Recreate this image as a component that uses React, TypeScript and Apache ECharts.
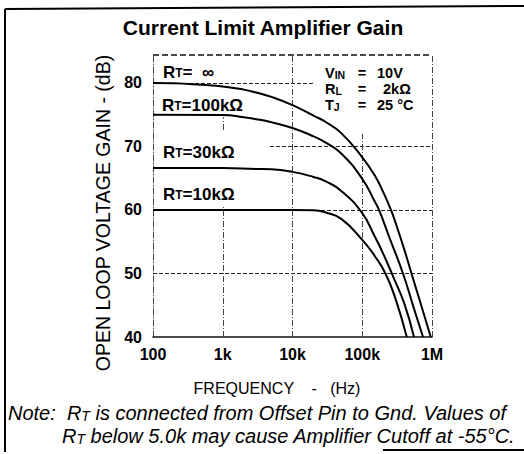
import React, { useEffect, useRef } from "react";
import * as echarts from "echarts";

// ---- data ----
const xTickLabels: Record<string, string> = {
  "100": "100",
  "1000": "1k",
  "10000": "10k",
  "100000": "100k",
  "1000000": "1M",
};
const yTickValues = [40, 50, 60, 70, 80];

const freqInf = [100, 200, 500, 1000, 2000, 3000, 5000, 10000, 20000, 30000, 50000, 100000, 150000, 200000, 258000, 300000, 400000, 508000, 700000, 960000];
const gainInf = [80, 79.95, 79.7, 79.45, 78.95, 78.5, 77.8, 76.5, 74.85, 73.85, 72.1, 68.3, 65.5, 62.8, 60, 58, 53.8, 50, 45, 40];

const freq100k = [100, 1000, 2000, 3000, 5000, 10000, 20000, 30000, 50000, 100000, 150000, 174000, 250000, 384000, 550000, 743000];
const gain100k = [75, 74.95, 74.6, 74.3, 73.8, 72.9, 71.6, 70.6, 68.9, 64.9, 61.4, 60, 55.4, 50, 44.5, 40];

const freq30k = [100, 1000, 3000, 5000, 10000, 20000, 30000, 50000, 100000, 150000, 200000, 285000, 400000, 552000];
const gain30k = [66.6, 66.6, 66.45, 66.4, 66.0, 65.2, 64.5, 63.0, 59.5, 55.9, 53.1, 49.2, 45.3, 40];

const freq10k = [100, 1000, 10000, 20000, 30000, 50000, 100000, 150000, 215000, 300000, 435000];
const gain10k = [60, 60, 60, 59.95, 59.6, 58.6, 55.3, 52.8, 50, 46.0, 40];

// grid segments: [value, from, to]
const hGrid = [
  [80, 100, 20000],
  [70, 4750, 1000000],
  [60, 100, 1000000],
  [50, 100, 1000000],
];
const vGrid = [
  [1000, 40, 60.5],
  [1000, 72.6, 74.6],
  [10000, 40, 84.4],
  [100000, 40, 72],
];
const yMax = 84.4;

const FONT = "'Liberation Sans', Arial, Helvetica, sans-serif";

export default function App() {
  const ref = useRef<HTMLDivElement>(null);
  useEffect(() => {
    document.body.style.margin = "0";
    document.body.style.background = "#fff";
    if (!ref.current) return;
    const chart = echarts.init(ref.current, null, { renderer: "svg" });

    const pair = (fs: number[], gs: number[]) => fs.map((f, i) => [f, gs[i]]);
    const curve = (name: string, data: number[][]) => ({
      name,
      type: "line",
      data,
      smooth: 0.5,
      showSymbol: false,
      symbol: "none",
      z: 3,
      lineStyle: { color: "#000", width: 2 },
    });

    const gridLine = { color: "#222", width: 1 };
    const dashLine = { color: "#444", width: 1, type: [6, 2, 1, 2] };
    const markData: any[] = [];
    hGrid.forEach(([v, a, b]) =>
      markData.push([{ coord: [a, v], lineStyle: gridLine }, { coord: [b, v] }])
    );
    vGrid.forEach(([v, a, b]) =>
      markData.push([{ coord: [v, a], lineStyle: dashLine }, { coord: [v, b] }])
    );
    // top border and right border
    markData.push([{ coord: [100, yMax], lineStyle: { color: "#111", width: 1.5 } }, { coord: [1000000, yMax] }]);
    markData.push([{ coord: [1000000, 40], lineStyle: dashLine }, { coord: [1000000, yMax] }]);

    const bold = (size: number) => ({ fontFamily: FONT, fontWeight: "bold", fontSize: size, fill: "#000", lineHeight: 14 });
    const richBig = { fontFamily: FONT, fontWeight: "bold", fontSize: 17, fill: "#000", lineHeight: 14 };
    const richSmall = { fontFamily: FONT, fontWeight: "bold", fontSize: 12, fill: "#000", lineHeight: 14, verticalAlign: "bottom" };
    const condBig = { ...richBig, fontSize: 14.5 };
    const condSmall = { ...richSmall, fontSize: 10.5 };
    const rtLabel = (x: number, y: number, rest: string) => ({
      type: "text",
      x,
      y,
      z: 10,
      style: {
        text: `{a|R}{s|T}{a|${rest}}`,
        align: "left",
        verticalAlign: "middle",
        rich: { a: richBig, s: richSmall },
      },
    });
    const condLabel = (y: number, big: string, small: string, value: string, vx: number) => [
      {
        type: "text", x: 325, y, z: 10,
        style: {
          text: `{a|${big}}{s|${small}}`,
          align: "left", verticalAlign: "middle",
          rich: { a: condBig, s: condSmall },
        },
      },
      { type: "text", x: 362, y, z: 10, style: { ...bold(14.5), text: "=", align: "center", verticalAlign: "middle" } },
      { type: "text", x: vx, y, z: 10, style: { ...bold(14.5), text: value, align: "left", verticalAlign: "middle" } },
    ];
    const noteRich = {
      i: { fontFamily: FONT, fontStyle: "italic", fontSize: 20, fill: "#000", lineHeight: 20 },
      s: { fontFamily: FONT, fontStyle: "italic", fontSize: 14, fill: "#000", lineHeight: 20, verticalAlign: "bottom" },
    };

    chart.setOption({
      animation: false,
      backgroundColor: "#fff",
      grid: { left: 153, right: 92, top: 55, bottom: 117 },
      xAxis: {
        type: "log",
        logBase: 10,
        min: 100,
        max: 1000000,
        axisLine: { show: true, lineStyle: { color: "#111", width: 1.5 } },
        axisTick: { show: false },
        splitLine: { show: false },
        minorSplitLine: { show: false },
        axisLabel: {
          margin: 9,
          color: "#000",
          fontFamily: FONT,
          fontWeight: "bold",
          fontSize: 16,
          formatter: (v: number) => xTickLabels[String(Math.round(v))] ?? "",
        },
      },
      yAxis: {
        type: "value",
        min: 40,
        max: yMax,
        interval: 10,
        axisLine: { show: true, lineStyle: dashLine },
        axisTick: { show: false },
        splitLine: { show: false },
        axisLabel: {
          margin: 11,
          color: "#000",
          fontFamily: FONT,
          fontWeight: "bold",
          fontSize: 16,
          formatter: (v: number) => (yTickValues.includes(Math.round(v * 10) / 10) ? String(v) : ""),
        },
      },
      series: [
        {
          type: "line",
          data: [[100, 40]],
          showSymbol: false,
          symbol: "none",
          lineStyle: { width: 0 },
          z: 1,
          markLine: {
            silent: true,
            z: 1,
            symbol: ["none", "none"],
            label: { show: false },
            data: markData,
          },
        },
        curve("RT=∞", pair(freqInf, gainInf)),
        curve("RT=100kΩ", pair(freq100k, gain100k)),
        curve("RT=30kΩ", pair(freq30k, gain30k)),
        curve("RT=10kΩ", pair(freq10k, gain10k)),
      ],
      graphic: [
        // outer frame
        { type: "line", shape: { x1: 5, y1: 9, x2: 5, y2: 452 }, style: { stroke: "#000", lineWidth: 2 } },
        { type: "line", shape: { x1: 5, y1: 9, x2: 524, y2: 6 }, style: { stroke: "#000", lineWidth: 2 } },
        { type: "line", shape: { x1: 383, y1: 450, x2: 524, y2: 450 }, style: { stroke: "#000", lineWidth: 2 } },
        {
          type: "text", x: 263, y: 27,
          style: { fontFamily: FONT, fontWeight: "bold", fontSize: 21, fill: "#000", text: "Current Limit Amplifier Gain", align: "center", verticalAlign: "middle" },
        },
        {
          type: "text", x: 103, y: 213, rotation: Math.PI / 2,
          style: {
            fontFamily: FONT, fontSize: 19.5, fill: "#000",
            text: "OPEN LOOP VOLTAGE GAIN - (dB)", align: "center", verticalAlign: "middle",
          },
        },
        {
          type: "text", x: 277, y: 388,
          style: {
            fontFamily: FONT, fontSize: 16, fill: "#000",
            text: "FREQUENCY    -   (Hz)", align: "center", verticalAlign: "middle",
          },
        },
        rtLabel(163, 72, "=  ∞"),
        rtLabel(162, 105, "=100kΩ"),
        rtLabel(163, 152, "=30kΩ"),
        rtLabel(163, 194, "=10kΩ"),
        ...condLabel(73, "V", "IN", "10V", 377),
        ...condLabel(89, "R", "L", "2kΩ", 383),
        ...condLabel(105, "T", "J", "25 °C", 377),
        {
          type: "text", x: 8, y: 413,
          style: {
            text: "{i|Note:  R}{s|T}{i| is connected from Offset Pin to Gnd. Values of}",
            align: "left", verticalAlign: "middle", rich: noteRich,
          },
        },
        {
          type: "text", x: 62, y: 436,
          style: {
            text: "{i|R}{s|T}{i| below 5.0k may cause Amplifier Cutoff at -55°C.}",
            align: "left", verticalAlign: "middle", rich: noteRich,
          },
        },
      ],
    });
    return () => chart.dispose();
  }, []);
  return <div ref={ref} style={{ width: 524, height: 454 }} />;
}
